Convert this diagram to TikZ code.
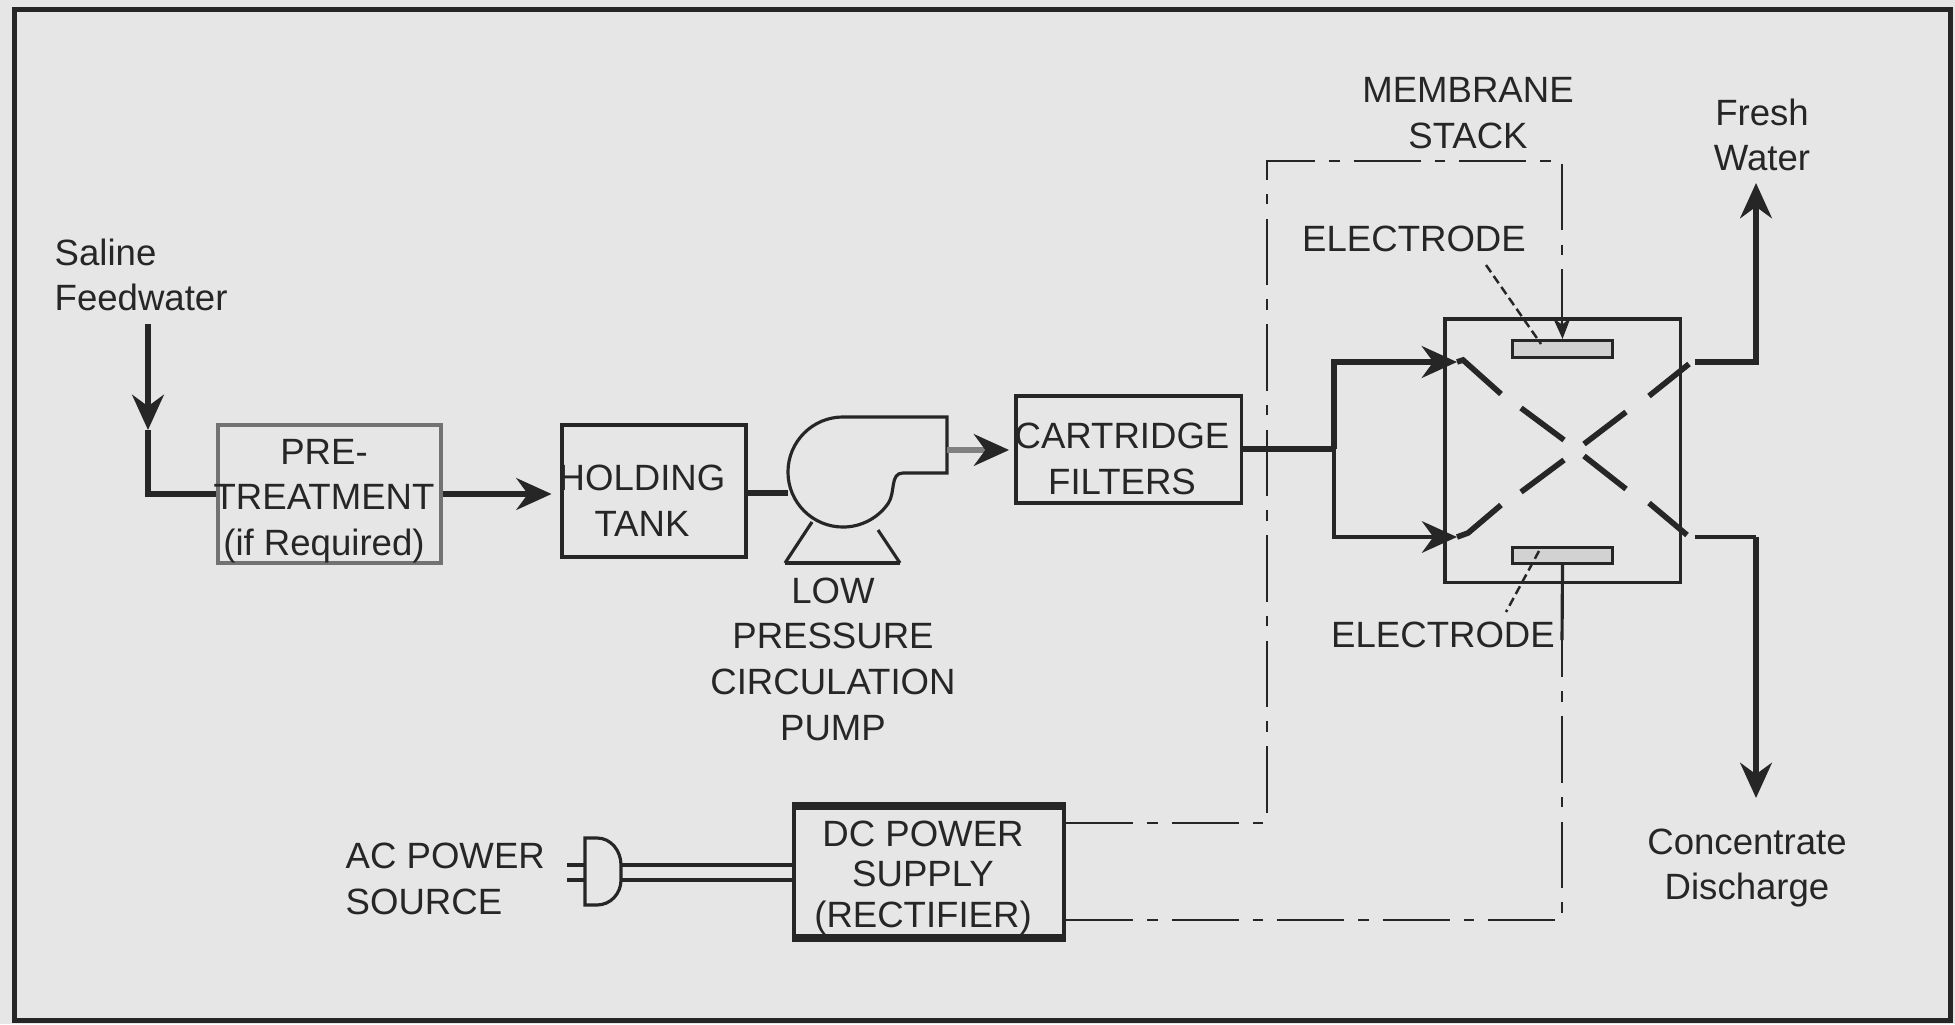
\documentclass[tikz,border=0pt]{standalone}
\usepackage{fontspec}
\setmainfont{Liberation Sans}
\usetikzlibrary{arrows.meta,positioning}
\definecolor{panel}{HTML}{E6E6E6}
\definecolor{ink}{HTML}{262626}
\tikzset{
	block/.style={draw=ink,line width=.9pt,inner sep=0},
	lbl/.style={font=\fontsize{10.4}{13}\selectfont,text=ink,align=center,inner sep=0},
	lblleft/.style={lbl,align=left,anchor=west},
	edge1/.style={color=ink,line width=.9pt},
	edge2/.style={color=ink,line width=1.6pt},
	diredge1/.style={edge1,-{Stealth[width=9pt,length=10pt]}},
	diredge2/.style={edge2,-{Stealth[width=9pt,length=10pt]}},
	ctrl/.style={color=ink,line width=.6pt,dash pattern=on 19pt off 4pt on 3pt off 4pt},
	leader/.style={color=ink,line width=.7pt,dash pattern=on 2.5pt off 1.3pt}
}
\begin{document}
\begin{tikzpicture}[x=.01cm,y=-.01cm]
		\fill[panel] (0,0) rectangle (1955,1024);
		\useasboundingbox (0,0) rectangle (1955,1024);
		\node[draw=ink,line width=1.4pt,minimum width=19.35cm,minimum height=10.1cm,inner sep=0] (frame) at (982.5,514.75) {};
		
		% flow line blocks
		\node[block,draw=ink!65,minimum width=2.23cm,minimum height=1.38cm] (pretreat) at (329.5,494) {};
		\node[block,minimum width=1.84cm,minimum height=1.32cm] (holding) at (654,491) {};
		\node[block,minimum width=2.25cm,minimum height=1.07cm] (filters) at (1128.5,449.5) {};
		\node[block,minimum width=2.35cm,minimum height=2.63cm] (stack) at (1562.5,450.5) {};
		\node[block,minimum width=1cm,minimum height=.17cm,fill=gray!35] (topelec) at (1562.5,349) {};
		\node[block,minimum width=1cm,minimum height=.16cm,fill=gray!35] (botelec) at (1562.5,555.5) {};
		\node[block,line width=1.2pt,minimum width=2.7cm,minimum height=1.29cm] (dcsupply) at (929,872) {};
		\draw[ink,line width=1.9pt] (dcsupply.north west) -- (dcsupply.north east) (dcsupply.south west) -- (dcsupply.south east);
		
		% pump
		\node[circle,minimum size=1.1cm,inner sep=0,outer sep=0] (pump) at (843,472) {};
		\coordinate (pumptop) at (947,417);
		\coordinate (pumpout) at (947,450);
		\coordinate (pumplow) at (947,473);
		\coordinate (pumpneck) at (903,473);
		\coordinate (legleft) at (812,522);
		\coordinate (legright) at (878,530);
		\coordinate (baseleft) at (785,563);
		\coordinate (baseright) at (900,563);
		\draw[edge1] (pumptop) -- (pump.north) arc[start angle=90,end angle=325,radius=.55cm] to[out=55,in=180] (pumpneck) -- (pumplow) -- cycle;
		\draw[edge1] (legleft) -- (baseleft) (legright) -- (baseright);
		\draw[edge2,line width=1.4pt] (baseleft) -- (baseright);
		
		% plug
		\coordinate (plugtl) at (585,838);
		\coordinate (plugtr) at (597,838);
		\coordinate (plugbr) at (597,905);
		\coordinate (plugbl) at (585,905);
		\coordinate (cordup) at (621,865);
		\coordinate (corddn) at (621,880);
		\coordinate (prongup) at (567,865);
		\coordinate (prongdn) at (567,880);
		\draw[edge1] (plugtl) -- (plugtr) to[out=0,in=90] (cordup) -- (corddn) to[out=270,in=0] (plugbr) -- (plugbl) -- cycle;
		\draw[edge1] (prongup) -- (plugtl |- prongup) (prongdn) -- (plugbl |- prongdn);
		\draw[edge1] (cordup) -- (cordup -| dcsupply.west) (corddn) -- (corddn -| dcsupply.west);
		
		% feed and product lines
		\coordinate (feedtop) at (148,324);
		\coordinate (feedmid) at (148,430);
		\coordinate (feedcorner) at (148,494);
		\draw[diredge2] (feedtop) -- (feedmid);
		\draw[edge2] (feedmid) -- (feedcorner) -- (pretreat.west);
		\draw[diredge2,shorten >=2.5pt] (pretreat.east) -- (pretreat.east -| holding.west);
		\coordinate (tankout) at (746,493);
		\draw[edge2] (tankout) -- (tankout -| pump.west);
		\draw[edge2,color=gray,-{Stealth[width=9pt,length=10pt,color=ink]},shorten >=1.5pt] (pumpout) -- (filters.west |- pumpout);
		\coordinate (split) at (1334,449);
		\coordinate (splitup) at (1334,362);
		\coordinate (splitdn) at (1334,537);
		\coordinate (inup) at (1457,362);
		\coordinate (indn) at (1457,537);
		\draw[edge2] (filters.east |- split) -- (split);
		\draw[diredge2] (split) -- (splitup) -- (inup);
		\draw[diredge1] (split) -- (splitdn) -- (indn);
		\coordinate (outup) at (1695,362);
		\coordinate (outupc) at (1756,362);
		\coordinate (freshend) at (1756,183);
		\coordinate (outdn) at (1695,537);
		\coordinate (outdnc) at (1756,537);
		\coordinate (concend) at (1756,798);
		\draw[diredge2] (outup) -- (outupc) -- (freshend);
		\draw[edge1] (outdn) -- (outdnc);
		\draw[diredge2] (outdnc) -- (concend);
		
		% crossing streams in the stack
		\draw[edge2] (inup) -- (1463,360) -- (1501,394) (1521,408) -- (1564,440) (1584,456) -- (1626,489) (1649,503) -- (1687,535);
		\draw[edge2] (indn) -- (1468,533) -- (1501,505) (1521,492) -- (1564,460) (1584,444) -- (1626,412) (1649,396) -- (1689,364);
		
		% stack boundary and dc lines
		\coordinate (ctrltl) at (1267,161);
		\coordinate (ctrltr) at (1562,161);
		\coordinate (ctrlbl) at (1267,823);
		\coordinate (ctrlbr) at (1562,920);
		\coordinate (ctrlin) at (1562,322);
		\coordinate (ctrlup) at (1562,640);
		\draw[ctrl] (dcsupply.east |- ctrlbl) -- (ctrlbl) -- (ctrltl) -- (ctrltr) -- (ctrlin);
		\draw[ink,line width=.6pt,-{Stealth[width=5pt,length=6pt]}] (ctrlin) -- (topelec.north);
		\draw[ctrl] (dcsupply.east |- ctrlbr) -- (ctrlbr) -- (ctrlup);
		\draw[edge1] (ctrlup) -- (botelec.south);
		
		% labels
		\node[lblleft] (saline) at (54,275) {Saline\\Feedwater};
		\node[lbl] (pretext) at (324,501) {PRE-\\TREATMENT\\(if Required)};
		\node[lbl] (holdtext) at (642,501) {HOLDING\\TANK};
		\node[lbl] (pumptext) at (833,659) {LOW\\PRESSURE\\CIRCULATION\\PUMP};
		\node[lbl] (filtertext) at (1122,459) {CARTRIDGE\\FILTERS};
		\node[lbl] (stacktext) at (1468,113) {MEMBRANE\\STACK};
		\node[lbl] (freshtext) at (1762,135) {Fresh\\Water};
		\node[lbl] (toptext) at (1414,239) {ELECTRODE};
		\node[lbl] (bottext) at (1443,635) {ELECTRODE};
		\node[lbl] (conctext) at (1747,868) {Concentrate\\Discharge};
		\node[lblleft] (actext) at (345,879) {AC POWER\\SOURCE};
		\node[lbl,font=\fontsize{10.4}{11.4}\selectfont] (dctext) at (923,878) {DC POWER\\SUPPLY\\(RECTIFIER)};
		
		\coordinate (topleadfrom) at (1486,265);
		\coordinate (topleadto) at (1541,344);
		\coordinate (botleadfrom) at (1539,551);
		\coordinate (botleadto) at (1506,612);
		\draw[leader] (topleadfrom) -- (topleadto);
		\draw[leader] (botleadfrom) -- (botleadto);
	\end{tikzpicture}
\end{document}
